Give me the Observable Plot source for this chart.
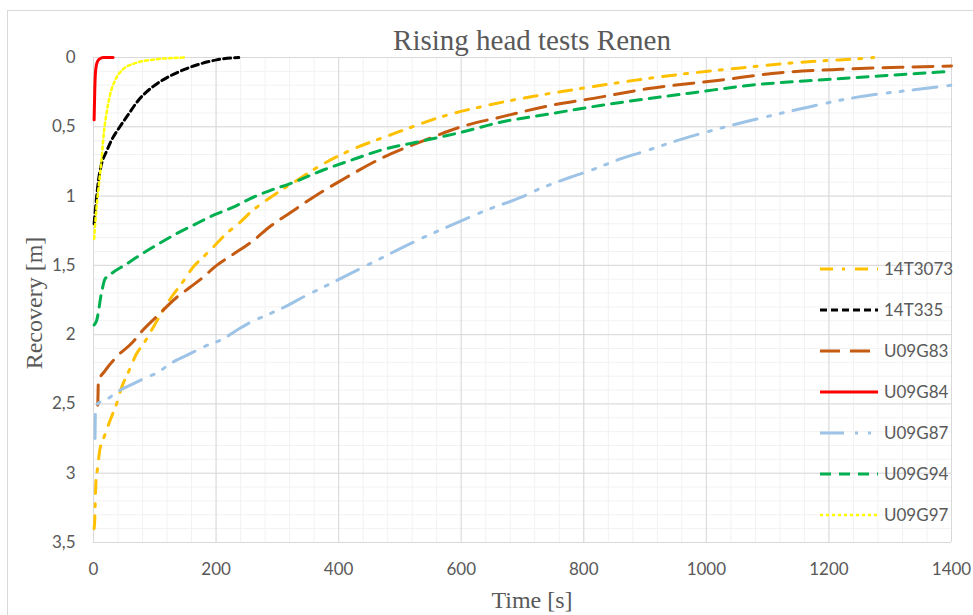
<!DOCTYPE html>
<html>
<head>
<meta charset="utf-8">
<script src="https://cdn.jsdelivr.net/npm/d3@7"></script>
<script src="https://cdn.jsdelivr.net/npm/@observablehq/plot@0.6"></script>
<style>
  html, body { margin: 0; padding: 0; background: #fff; overflow: hidden; }
  #wrap { position: relative; width: 973px; height: 615px; overflow: hidden; }
  #frame { position: absolute; left: 7px; top: 10px; width: 980px; height: 620px; border: 1px solid #D9D9D9; box-sizing: border-box; }
  #chart { position: absolute; left: 0; top: 0; }
  #overlay { position: absolute; left: 0; top: 0; pointer-events: none; }
</style>
</head>
<body>
<div id="wrap">
  <div id="frame"></div>
  <div id="chart"></div>
  <svg id="overlay" width="973" height="615"></svg>
</div>
<script>
// ---- Data ----
const seriesNames = ["14T3073", "14T335", "U09G83", "U09G84", "U09G87", "U09G94", "U09G97"];

const time14T3073 = [1, 2, 3, 4, 6.5, 10, 18, 27, 37.6, 46, 57, 70, 84, 97, 127, 144, 163, 179, 195, 217, 239, 258, 282, 302, 327, 370, 414, 490, 566, 642, 718, 800, 882, 980, 1056, 1137, 1197, 1246, 1273];
const rec14T3073  = [3.40, 3.34, 3.18, 3.06, 2.97, 2.84, 2.73, 2.62, 2.50, 2.38, 2.27, 2.14, 2.05, 1.95, 1.73, 1.63, 1.51, 1.44, 1.37, 1.27, 1.19, 1.11, 1.03, 0.97, 0.90, 0.78, 0.68, 0.55, 0.43, 0.346, 0.28, 0.22, 0.165, 0.11, 0.075, 0.04, 0.022, 0.01, 0];

const time14T335 = [1, 5, 8, 13, 21, 29, 43, 57, 73, 97, 122, 152, 175, 201, 237];
const rec14T335  = [1.20, 1.01, 0.89, 0.77, 0.68, 0.60, 0.50, 0.41, 0.31, 0.21, 0.14, 0.08, 0.045, 0.017, 0];

const timeU09G83 = [7, 8, 19, 40, 65, 76, 103, 136, 157, 179, 201, 228, 261, 288, 321, 365, 403, 473, 539, 600, 664, 746, 827, 903, 1018, 1121, 1219, 1317, 1400];
const recU09G83  = [2.51, 2.34, 2.26, 2.15, 2.05, 1.99, 1.87, 1.73, 1.66, 1.585, 1.50, 1.42, 1.32, 1.22, 1.12, 0.99, 0.89, 0.72, 0.60, 0.50, 0.43, 0.346, 0.286, 0.226, 0.166, 0.11, 0.085, 0.07, 0.062];

const timeU09G84 = [1, 1.5, 2, 3, 4.5, 6.5, 10, 16, 32];
const recU09G84  = [0.45, 0.35, 0.25, 0.12, 0.06, 0.03, 0.01, 0, 0];

const timeU09G87 = [2.5, 3, 6.5, 24, 40, 67, 86, 106, 125, 152, 184, 212, 233, 261, 282, 312, 346, 392, 446, 533, 610, 642, 697, 724, 778, 811, 865, 895, 952, 1072, 1154, 1246, 1339, 1400];
const recU09G87  = [2.75, 2.58, 2.50, 2.46, 2.41, 2.35, 2.31, 2.27, 2.21, 2.15, 2.08, 2.03, 1.97, 1.90, 1.86, 1.80, 1.72, 1.62, 1.50, 1.31, 1.16, 1.10, 1.01, 0.955, 0.864, 0.815, 0.724, 0.683, 0.60, 0.455, 0.37, 0.286, 0.233, 0.20];

const timeU09G94 = [1, 5, 13, 18.6, 29, 54, 78, 108, 136, 163, 195, 228, 255, 288, 321, 376, 419, 468, 539, 600, 664, 746, 827, 903, 985, 1072, 1197, 1295, 1400];
const recU09G94  = [1.93, 1.90, 1.70, 1.60, 1.56, 1.49, 1.42, 1.34, 1.27, 1.21, 1.14, 1.08, 1.02, 0.96, 0.91, 0.81, 0.743, 0.67, 0.60, 0.54, 0.467, 0.406, 0.346, 0.298, 0.25, 0.20, 0.159, 0.13, 0.10];

const timeU09G97 = [1, 5, 9, 13, 17, 21, 27, 35, 46, 68, 100, 138, 150];
const recU09G97  = [1.31, 1.08, 0.91, 0.74, 0.54, 0.41, 0.27, 0.166, 0.094, 0.041, 0.014, 0.002, 0];

const xTicks = [0, 200, 400, 600, 800, 1000, 1200, 1400];
const xTickLabels = ["0", "200", "400", "600", "800", "1000", "1200", "1400"];
const yTicks = [0, 0.5, 1, 1.5, 2, 2.5, 3, 3.5];
const yTickLabels = ["0", "0,5", "1", "1,5", "2", "2,5", "3", "3,5"];

// ---- Styles ----
const seriesStyle = {
  "14T3073": {stroke: "#FFC000", dash: "13,9,3,10", width: 3},
  "14T335":  {stroke: "#000000", dash: "7,4", width: 3},
  "U09G83":  {stroke: "#C55A11", dash: "20,10", width: 3},
  "U09G84":  {stroke: "#FF0000", dash: null, width: 3},
  "U09G87":  {stroke: "#9DC3E6", dash: "24,11,3,10,3,10", width: 3},
  "U09G94":  {stroke: "#00B050", dash: "11,8", width: 3},
  "U09G97":  {stroke: "#FFFF00", dash: "3,3", width: 2.5}
};

const timesArr = [time14T3073, time14T335, timeU09G83, timeU09G84, timeU09G87, timeU09G94, timeU09G97];
const recsArr  = [rec14T3073, rec14T335, recU09G83, recU09G84, recU09G87, recU09G94, recU09G97];

const series = seriesNames.map((name, i) => ({
  name,
  data: timesArr[i].map((t, j) => ({t, r: recsArr[i][j]}))
}));

const minorX = d3.range(0, 1401, 40);
const minorY = d3.range(0, 36, 1).map(d => d / 10);
const yLabelOf = new Map(yTicks.map((v, i) => [v, yTickLabels[i]]));
const xLabelOf = new Map(xTicks.map((v, i) => [v, xTickLabels[i]]));

const chart = Plot.plot({
  width: 973,
  height: 615,
  marginLeft: 93,
  marginRight: 22,
  marginTop: 57,
  marginBottom: 73,
  style: {fontFamily: "Lato, 'Open Sans', sans-serif", color: "#595959", background: "transparent", overflow: "visible"},
  x: {domain: [0, 1400]},
  y: {domain: [0, 3.5], reverse: true},
  marks: [
    Plot.gridX(minorX, {stroke: "#F2F2F2", strokeOpacity: 1, strokeWidth: 1}),
    Plot.gridY(minorY, {stroke: "#F2F2F2", strokeOpacity: 1, strokeWidth: 1}),
    Plot.gridX(xTicks, {stroke: "#D9D9D9", strokeOpacity: 1, strokeWidth: 1}),
    Plot.gridY(yTicks, {stroke: "#D9D9D9", strokeOpacity: 1, strokeWidth: 1}),
    Plot.axisX(xTicks, {tickSize: 0, tickPadding: 20, label: null, fontSize: 17, fill: "#595959", tickFormat: d => xLabelOf.get(d)}),
    Plot.axisY(yTicks, {tickSize: 0, tickPadding: 18, label: null, fontSize: 17, fill: "#595959", tickFormat: d => yLabelOf.get(d)}),
    ...series.map(s => Plot.line(s.data, {
      x: "t", y: "r",
      stroke: seriesStyle[s.name].stroke,
      strokeWidth: seriesStyle[s.name].width,
      strokeDasharray: seriesStyle[s.name].dash,
      curve: "monotone-x"
    }))
  ]
});
document.getElementById("chart").appendChild(chart);

// ---- Title, axis titles and legend (overlay text) ----
const ov = d3.select("#overlay");
const serif = "'Liberation Serif', 'Times New Roman', serif";
ov.append("text").attr("x", 532).attr("y", 50).attr("text-anchor", "middle")
  .attr("font-family", serif).attr("font-size", 29).attr("fill", "#595959")
  .text("Rising head tests Renen");
ov.append("text").attr("x", 532).attr("y", 608).attr("text-anchor", "middle")
  .attr("font-family", serif).attr("font-size", 24).attr("fill", "#595959")
  .text("Time [s]");
ov.append("text").attr("transform", "translate(42,303) rotate(-90)").attr("text-anchor", "middle")
  .attr("font-family", serif).attr("font-size", 24).attr("fill", "#595959")
  .text("Recovery [m]");

const legendY = d3.range(seriesNames.length).map(i => 269 + i * 41);
seriesNames.forEach((name, i) => {
  const st = seriesStyle[name];
  const g = ov.append("g").attr("transform", `translate(0,${legendY[i]})`);
  g.append("line").attr("x1", 820).attr("x2", 878).attr("y1", 0).attr("y2", 0)
    .attr("stroke", st.stroke).attr("stroke-width", st.width)
    .attr("stroke-dasharray", st.dash);
  g.append("text").attr("x", 884).attr("y", 0).attr("dy", "0.35em")
    .attr("font-family", "Lato, 'Open Sans', sans-serif").attr("font-size", 17)
    .attr("fill", "#595959").text(name);
});
</script>
</body>
</html>
